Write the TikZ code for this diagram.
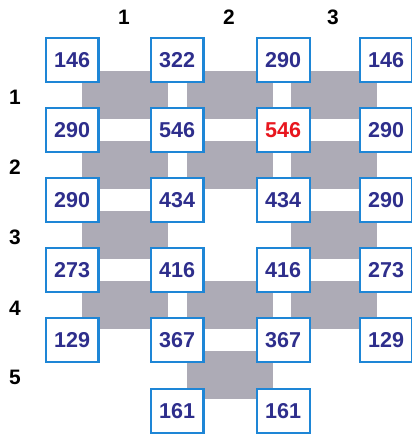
\documentclass[tikz,border=0pt]{standalone}
\usepackage{fontspec}
\setmainfont{Liberation Sans}
\usepackage{xcolor}
\usepackage{tikz}
\definecolor{boxblue}{HTML}{1E86D6}
\definecolor{numink}{HTML}{2E2E8C}
\definecolor{hot}{HTML}{E8161E}
\definecolor{shade}{HTML}{ADABB6}

\begin{document}
\begin{tikzpicture}[
  val/.style={draw=boxblue,fill=white,line width=1.7pt,minimum width=1.51cm,minimum height=1.26cm,inner sep=0pt,
    font=\fontsize{17.5}{20}\selectfont\bfseries,text=numink},
  cell/.style={fill=shade,draw=none,minimum width=2.46cm,minimum height=1.37cm,inner sep=0pt},
  hdr/.style={font=\fontsize{17}{20}\selectfont\bfseries,text=black}
]
\useasboundingbox (0,0) rectangle (11.77,-12.457);

% shaded cells
\node[cell] (g11) at (3.57,-2.71) {};
\node[cell] (g12) at (6.57,-2.71) {};
\node[cell] (g13) at (9.54,-2.71) {};
\node[cell] (g21) at (3.57,-4.71) {};
\node[cell] (g22) at (6.57,-4.71) {};
\node[cell] (g23) at (9.54,-4.71) {};
\node[cell] (g31) at (3.57,-6.71) {};
\node[cell] (g33) at (9.54,-6.71) {};
\node[cell] (g41) at (3.57,-8.71) {};
\node[cell] (g42) at (6.57,-8.71) {};
\node[cell] (g43) at (9.54,-8.71) {};
\node[cell] (g52) at (6.57,-10.72) {};

% headers
\node[hdr] (c1) at (3.54,-0.49) {1};
\node[hdr] (c2) at (6.54,-0.49) {2};
\node[hdr] (c3) at (9.51,-0.49) {3};
\node[hdr] (r1) at (0.43,-2.77) {1};
\node[hdr] (r2) at (0.43,-4.77) {2};
\node[hdr] (r3) at (0.43,-6.77) {3};
\node[hdr] (r4) at (0.43,-8.80) {4};
\node[hdr] (r5) at (0.43,-10.77) {5};

% values
\node[val] (v00) at (2.06,-1.71) {146};
\node[val] (v01) at (5.06,-1.71) {322};
\node[val] (v02) at (8.09,-1.71) {290};
\node[val] (v03) at (11.03,-1.71) {146};
\node[val] (v10) at (2.06,-3.71) {290};
\node[val] (v11) at (5.06,-3.71) {546};
\node[val,text=hot] (v12) at (8.09,-3.71) {546};
\node[val] (v13) at (11.03,-3.71) {290};
\node[val] (v20) at (2.06,-5.71) {290};
\node[val] (v21) at (5.06,-5.71) {434};
\node[val] (v22) at (8.09,-5.71) {434};
\node[val] (v23) at (11.03,-5.71) {290};
\node[val] (v30) at (2.06,-7.71) {273};
\node[val] (v31) at (5.06,-7.71) {416};
\node[val] (v32) at (8.09,-7.71) {416};
\node[val] (v33) at (11.03,-7.71) {273};
\node[val] (v40) at (2.06,-9.71) {129};
\node[val] (v41) at (5.06,-9.71) {367};
\node[val] (v42) at (8.09,-9.71) {367};
\node[val] (v43) at (11.03,-9.71) {129};
\node[val] (v51) at (5.06,-11.74) {161};
\node[val] (v52) at (8.09,-11.74) {161};
\end{tikzpicture}
\end{document}
